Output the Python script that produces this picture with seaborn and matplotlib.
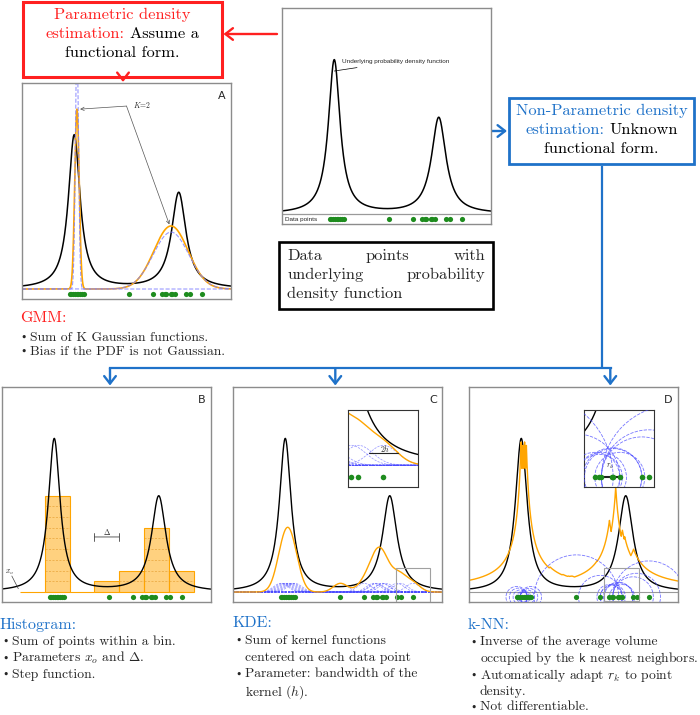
import numpy as np
import pandas as pd
import matplotlib
matplotlib.use("Agg")
import matplotlib.pyplot as plt
from matplotlib.patches import Rectangle, Ellipse
import seaborn as sns

sns.set_theme(style="white")
plt.rcParams["mathtext.fontset"] = "cm"
plt.rcParams["font.family"] = ["DejaVu Sans"]
plt.rcParams["axes.unicode_minus"] = False

# ---------------- data ----------------
DATA_POINTS = [0.228, 0.236, 0.245, 0.253, 0.262, 0.270, 0.279, 0.287, 0.296,
               0.514, 0.628, 0.672, 0.683, 0.688, 0.714, 0.716, 0.732,
               0.785, 0.802, 0.861]
PDF_CENTERS = [0.25, 0.75]
PDF_WIDTHS = [0.034, 0.042]
PDF_HEIGHTS = [1.0, 0.625]
GMM_MEANS = [0.263, 0.713]
GMM_SIGMAS = [0.0105, 0.082]
GMM_HEIGHTS = [1.17, 0.41]
GMM_COMP_SIGMAS = [0.0075, 0.085]
GMM_COMP_HEIGHTS = [1.6, 0.37]
HIST_X0 = 0.085
HIST_DELTA = 0.119
HIST_NBINS = 7
HIST_UNIT = 0.07
KDE_H = 0.034
KDE_KERNEL_HEIGHT = 0.057
KNN_K = 6
KNN_SCALE = 0.0206
PANEL_LABELS = ["A", "B", "C", "D"]

RED = "#ff2020"
BLUE = "#1f72c9"
GREEN = "#1e8c1e"
ORANGE = "#ffa500"
SERIF = ["cmr10", "DejaVu Serif"]
SANS = ["Liberation Sans", "DejaVu Sans"]

W, H = 700, 715
YMIN, YMAX = -0.065, 1.34
PT_Y = -0.033

fig = plt.figure(figsize=(7, 7.15), dpi=100)
ov = fig.add_axes([0, 0, 1, 1])
ov.set_xlim(0, W)
ov.set_ylim(H, 0)
ov.axis("off")
renderer = fig.canvas.get_renderer()

xs = np.linspace(0, 1, 2001)
pts = np.array(DATA_POINTS)
N = len(pts)


def pdf(x):
    x = np.asarray(x)[:, None]
    c = np.array(PDF_CENTERS)
    w = np.array(PDF_WIDTHS)
    h = np.array(PDF_HEIGHTS)
    return (h * w ** 2 / ((x - c) ** 2 + w ** 2)).sum(axis=1)


def gauss(x, m, s, a):
    return a * np.exp(-0.5 * ((x - m) / s) ** 2)


def line(ax, x, y, **kw):
    sns.lineplot(x=x, y=y, ax=ax, estimator=None, **kw)


def points(ax, size=14):
    sns.scatterplot(x=pts, y=np.full(N, PT_Y), ax=ax, color=GREEN, s=size,
                    linewidth=0, zorder=6)


def panel(x0, y0, x1, y1):
    ax = fig.add_axes([x0 / W, 1 - y1 / H, (x1 - x0) / W, (y1 - y0) / H])
    ax.set_facecolor("white")
    return ax


def finish(ax, xlim=(0, 1), ylim=(YMIN, YMAX), spine="#8c8c8c", lw=1.0):
    ax.set_xlim(*xlim)
    ax.set_ylim(*ylim)
    ax.set_xticks([])
    ax.set_yticks([])
    ax.set_xlabel("")
    ax.set_ylabel("")
    if ax.get_legend() is not None:
        ax.get_legend().remove()
    for s in ax.spines.values():
        s.set_visible(True)
        s.set_color(spine)
        s.set_linewidth(lw)


def label(ax, t):
    ax.text(0.975, 0.965, t, transform=ax.transAxes, ha="right", va="top",
            fontsize=8, family=["DejaVu Sans"])


pdf_y = pdf(xs)

# ---------------- top panel: underlying PDF ----------------
axT = panel(282, 8, 491, 224)
line(axT, xs, pdf_y, color="black", lw=1.1)
axT.axhline(0, color="#9a9a9a", lw=0.9)
points(axT)
axT.annotate("Underlying probability density function", xy=(0.25, 0.93),
             xytext=(0.285, 0.99), fontsize=4.6, family=SANS, va="center",
             arrowprops=dict(arrowstyle="-", lw=0.5, color="black",
                             shrinkA=0, shrinkB=0))
axT.text(0.015, PT_Y, "Data points", fontsize=4.6, family=SANS, va="center")
finish(axT)

# ---------------- A: GMM ----------------
axA = panel(22, 83, 231, 299)
line(axA, xs, pdf_y, color="black", lw=1.1)
gmm = sum(gauss(xs, m, s, a) for m, s, a in zip(GMM_MEANS, GMM_SIGMAS, GMM_HEIGHTS))
line(axA, xs, gmm, color=ORANGE, lw=1.2)
for m, s, a in zip(GMM_MEANS, GMM_COMP_SIGMAS, GMM_COMP_HEIGHTS):
    line(axA, xs, gauss(xs, m, s, a), color="#8080ff", lw=0.8, linestyle="--", alpha=0.8)
points(axA)
axA.text(0.53, 1.2, "$K\\!=\\!2$", fontsize=5.5, va="center")
for tgt in [(0.278, 1.17), (0.705, 0.42)]:
    axA.annotate("", xy=tgt, xytext=(0.50, 1.19),
                 arrowprops=dict(arrowstyle="->", lw=0.5, color="#555555",
                                 shrinkA=0, shrinkB=0, mutation_scale=6))
label(axA, PANEL_LABELS[0])
finish(axA)

# ---------------- B: histogram ----------------
axB = panel(2, 387, 211, 602)
edges = [HIST_X0 + HIST_DELTA * i for i in range(HIST_NBINS + 1)]
hist_df = pd.DataFrame({"x": pts})
sns.histplot(data=hist_df, x="x", bins=edges, stat="count", ax=axB,
             color=ORANGE, alpha=0.5, edgecolor=ORANGE, linewidth=0.8)
for patch in axB.patches:
    patch.set_height(patch.get_height() * HIST_UNIT)
counts, _ = np.histogram(pts, bins=edges)
for i, c in enumerate(counts):
    for k in range(1, c):
        axB.hlines(k * HIST_UNIT, edges[i], edges[i + 1], color="#e39a2a",
                   lw=0.5, linestyle=(0, (3, 2)), alpha=0.8)
line(axB, xs, pdf_y, color="black", lw=1.0)
points(axB)
axB.annotate("", xy=(edges[3], 0.36), xytext=(edges[4], 0.36),
             arrowprops=dict(arrowstyle="|-|,widthA=0.25,widthB=0.25", lw=0.6,
                             color="#444444", shrinkA=0, shrinkB=0))
axB.text((edges[3] + edges[4]) / 2, 0.395, "$\\Delta$", fontsize=5.5,
         ha="center", va="center")
axB.text(0.035, 0.13, "$x_o$", fontsize=5.5, ha="center", va="center")
axB.plot([0.047, 0.078], [0.105, 0.022], color="#444444", lw=0.5)
label(axB, PANEL_LABELS[1])
finish(axB)

# ---------------- C: KDE ----------------
kernels = [gauss(xs, p, KDE_H, KDE_KERNEL_HEIGHT) for p in pts]
kde = np.sum(kernels, axis=0)


def draw_kde(ax):
    line(ax, xs, pdf_y, color="black", lw=1.0)
    for k in kernels:
        ax.plot(xs, k, color="#4a4aff", lw=0.55, linestyle=(0, (3, 1.5)), alpha=0.55)
    line(ax, xs, kde, color=ORANGE, lw=1.0)


axC = panel(233, 387, 442, 602)
draw_kde(axC)
points(axC)
IC_X = (0.778, 0.944)
IC_Y = (-0.063, 0.16)
axC.add_patch(Rectangle((IC_X[0], IC_Y[0]), IC_X[1] - IC_X[0], IC_Y[1] - IC_Y[0],
                        fill=False, edgecolor="#a0a0a0", lw=0.8, zorder=7))
label(axC, PANEL_LABELS[2])
finish(axC)

insC = axC.inset_axes([0.552, 0.535, 0.335, 0.36])
insC.set_facecolor("white")
draw_kde(insC)
points(insC, size=16)
p_last = pts[-1]
yh = KDE_KERNEL_HEIGHT * np.exp(-0.5)
insC.plot([p_last - KDE_H, p_last + KDE_H], [yh, yh], color="#222222", lw=0.8)
insC.text(p_last + 0.003, yh + 0.013, "$2h$", fontsize=5.5, ha="center", va="center")
finish(insC, IC_X, IC_Y, spine="#333333", lw=0.8)

# ---------------- D: k-NN ----------------
dist = np.abs(xs[:, None] - pts[None, :])
r_k = np.sort(dist, axis=1)[:, KNN_K - 1]
knn = KNN_SCALE / r_k
radii = [np.sort(np.abs(pts - p))[KNN_K] for p in pts]


def circles(ax, px_w, px_h, xlim, ylim):
    ratio = (px_w / (xlim[1] - xlim[0])) / (px_h / (ylim[1] - ylim[0]))
    for p, r in zip(pts, radii):
        ax.add_patch(Ellipse((p, PT_Y), 2 * r, 2 * r * ratio, fill=False,
                             edgecolor="#4a4aff", lw=0.6, alpha=0.75,
                             linestyle=(0, (4, 1.5)), zorder=3))


axD = panel(469, 387, 678, 602)
line(axD, xs, pdf_y, color="black", lw=1.0)
line(axD, xs, knn, color=ORANGE, lw=1.0)
axD.axhline(0, color="#9a9a9a", lw=0.8)
circles(axD, 209, 215, (0, 1), (YMIN, YMAX))
points(axD)
ID_X = (0.647, 0.815)
ID_Y = (-0.06, 0.157)
axD.add_patch(Rectangle((ID_X[0], ID_Y[0]), ID_X[1] - ID_X[0], ID_Y[1] - ID_Y[0],
                        fill=False, edgecolor="#a0a0a0", lw=0.8, zorder=7))
label(axD, PANEL_LABELS[3])
finish(axD)

insD = axD.inset_axes([0.552, 0.535, 0.335, 0.36])
insD.set_facecolor("white")
line(insD, xs, pdf_y, color="black", lw=1.0)
line(insD, xs, knn, color=ORANGE, lw=1.0)
circles(insD, 209 * 0.335, 215 * 0.36, ID_X, ID_Y)
points(insD, size=16)
i_r = 11
insD.plot([pts[i_r], pts[i_r] + radii[i_r]], [PT_Y, PT_Y], color="#222222", lw=1.5, zorder=5)
insD.text(pts[i_r] + radii[i_r] * 0.6, PT_Y + 0.03, "$r_k$", fontsize=5.5,
          ha="center", va="center")
finish(insD, ID_X, ID_Y, spine="#333333", lw=0.8)

# ---------------- boxes, arrows, texts (overlay, pixel coordinates) ----------------
ov.add_patch(Rectangle((23.3, 1.7), 198.4, 75, fill=False, edgecolor=RED, lw=2.2))
ov.add_patch(Rectangle((508.7, 97.7), 185.3, 66.6, fill=False, edgecolor=BLUE, lw=2.0))
ov.add_patch(Rectangle((279, 242.3), 214.3, 67, fill=False, edgecolor="black", lw=1.9))


def arrow(x0, y0, x1, y1, color):
    ov.annotate("", xy=(x1, y1), xytext=(x0, y0),
                arrowprops=dict(arrowstyle="->,head_length=0.45,head_width=0.35",
                                color=color, lw=1.7, mutation_scale=12,
                                shrinkA=0, shrinkB=0))


arrow(277, 34, 223.5, 34, RED)
arrow(123, 77, 123, 82, RED)
arrow(491, 131, 507, 131, BLUE)
ov.plot([601.7, 601.7], [165.5, 368.3], color=BLUE, lw=1.6, solid_capstyle="butt")
ov.plot([110, 611], [368.3, 368.3], color=BLUE, lw=1.6, solid_capstyle="projecting")
for xa in [110, 335.3, 610.3]:
    arrow(xa, 368.3, xa, 385.5, BLUE)


def mixed(parts, xc, y, size):
    ts = [ov.text(0, y, s, color=c, fontsize=size, family=SERIF, ha="left",
                  va="baseline") for s, c in parts]
    ws = [t.get_window_extent(renderer).width for t in ts]
    sp = size * 0.333 * 100 / 72
    total = sum(ws) + sp * (len(ts) - 1)
    x = xc - total / 2
    for t, w in zip(ts, ws):
        t.set_x(x)
        x += w + sp


def justify(words, xl, xr, y, size):
    ts = [ov.text(0, y, w, fontsize=size, family=SERIF, ha="left", va="baseline")
          for w in words]
    ws = [t.get_window_extent(renderer).width for t in ts]
    gap = (xr - xl - sum(ws)) / (len(ws) - 1)
    x = xl
    for t, w in zip(ts, ws):
        t.set_x(x)
        x += w + gap


BOX_FS = 11.8
mixed([("Parametric density", RED)], 122.5, 19, BOX_FS)
mixed([("estimation:", RED), ("Assume a", "black")], 122.5, 38, BOX_FS)
mixed([("functional form.", "black")], 122.5, 57, BOX_FS)

mixed([("Non-Parametric density", BLUE)], 601.5, 115, BOX_FS)
mixed([("estimation:", BLUE), ("Unknown", "black")], 601.5, 134, BOX_FS)
mixed([("functional form.", "black")], 601.5, 153, BOX_FS)

justify(["Data", "points", "with"], 287.3, 485, 260, BOX_FS)
justify(["underlying", "probability"], 287.3, 485, 279, BOX_FS)
ov.text(287.3, 298, "density function", fontsize=BOX_FS, family=SERIF, va="baseline")

TITLE_FS = 11.5
ITEM_FS = 9.8


def block(title, color, x, y_title, items, bx, tx):
    ov.text(x, y_title + 5, title, color=color, fontsize=TITLE_FS, family=SERIF,
            va="baseline")
    for bullet, txt, y in items:
        if bullet:
            ov.text(bx, y + 4, "\u2022", fontsize=ITEM_FS * 0.8, family=["DejaVu Serif"],
                    va="baseline")
        ov.text(tx, y + 4, txt, fontsize=ITEM_FS, family=SERIF, va="baseline")


block("GMM:", RED, 20, 317,
      [(True, "Sum of K Gaussian functions.", 337),
       (True, "Bias if the PDF is not Gaussian.", 351)], 20, 30)
block("Histogram:", BLUE, 0, 624,
      [(True, "Sum of points within a bin.", 641),
       (True, "Parameters $x_o$ and $\\Delta$.", 657.5),
       (True, "Step function.", 674)], 2, 12)
block("KDE:", BLUE, 233, 622,
      [(True, "Sum of kernel functions", 640),
       (False, "centered on each data point", 656.7),
       (True, "Parameter: bandwidth of the", 673.3),
       (False, "kernel ($h$).", 691.7)], 235, 245)
block("k-NN:", BLUE, 468, 624,
      [(True, "Inverse of the average volume", 641.5),
       (False, "occupied by the $\\mathsf{k}$ nearest neighbors.", 658),
       (True, "Automatically adapt $r_k$ to point", 674.5),
       (False, "density.", 691),
       (True, "Not differentiable.", 706.5)], 470, 480)

fig.savefig("out.png", dpi=100)
